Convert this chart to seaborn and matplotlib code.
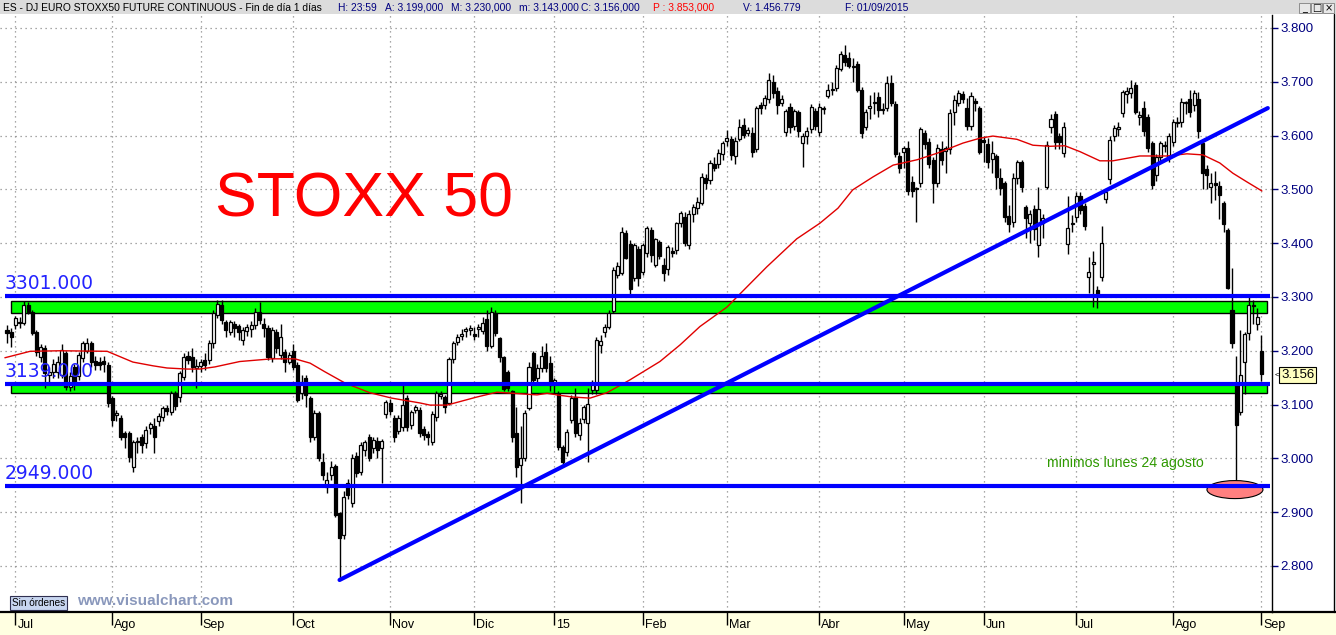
import numpy as np
import matplotlib
matplotlib.use("Agg")
import matplotlib.pyplot as plt
import matplotlib.transforms as mtransforms
from matplotlib.patches import Rectangle, Ellipse
import seaborn as sns

# daily candles, Jun 2014 -> 01/09/2015 (index = trading day)
opens = [
    3239, 3235, 3248, 3254, 3252, 3285, 3272, 3235, 3188, 3205,
    3155, 3160, 3160, 3155, 3196, 3133, 3170, 3153, 3186, 3199,
    3214, 3181, 3180, 3181, 3174, 3112, 3080, 3075, 3047, 3047,
    2984, 3031, 3040, 3029, 3057, 3060, 3070, 3077, 3094, 3086,
    3122, 3114, 3151, 3190, 3189, 3168, 3172, 3183, 3183, 3214,
    3266, 3285, 3253, 3235, 3250, 3246, 3220, 3237, 3240, 3248,
    3272, 3250, 3242, 3186, 3235, 3192, 3198, 3180, 3200, 3174,
    3121, 3150, 3112, 3040, 3084, 2993, 2947, 2969, 2986, 2898,
    2857, 2954, 2917, 3004, 2975, 3015, 3040, 3020, 3032, 3020,
    3082, 3103, 3075, 3050, 3058, 3112, 3062, 3090, 3090, 3055,
    3045, 3030, 3077, 3115, 3114, 3103, 3185, 3216, 3228, 3236,
    3238, 3232, 3240, 3237, 3259, 3209, 3270, 3224, 3188, 3160,
    3125, 3047, 2988, 3000, 3094, 3196, 3149, 3168, 3198, 3178,
    3138, 3120, 3021, 3012, 3071, 3114, 3043, 3073, 3066, 3127,
    3127, 3210, 3235, 3245, 3274, 3340, 3345, 3419, 3399, 3335,
    3390, 3346, 3382, 3425, 3360, 3402, 3360, 3352, 3386, 3387,
    3437, 3449, 3397, 3454, 3465, 3475, 3522, 3517, 3548, 3548,
    3566, 3590, 3593, 3562, 3593, 3620, 3605, 3605, 3575, 3657,
    3657, 3668, 3700, 3683, 3660, 3607, 3653, 3618, 3644, 3586,
    3599, 3612, 3646, 3607, 3650, 3674, 3685, 3688, 3724, 3750,
    3744, 3727, 3733, 3685, 3616, 3652, 3660, 3671, 3648, 3651,
    3698, 3659, 3562, 3570, 3577, 3514, 3500, 3511, 3605, 3588,
    3554, 3512, 3575, 3572, 3575, 3644, 3661, 3677, 3651, 3618,
    3665, 3651, 3592, 3584, 3556, 3562, 3521, 3512, 3451, 3439,
    3521, 3551, 3467, 3438, 3464, 3397, 3438, 3505, 3616, 3640,
    3599, 3568, 3398, 3436, 3449, 3488, 3469, 3337, 3361, 3313,
    3337, 3482, 3519, 3599, 3612, 3642, 3677, 3679, 3694, 3635,
    3651, 3634, 3586, 3527, 3560, 3580, 3560, 3588, 3624, 3625,
    3660, 3668, 3657, 3668, 3586, 3537, 3505, 3512, 3507, 3474,
    3425, 3276, 3136, 3086, 3179, 3233, 3285, 3250, 3199,
]
highs = [
    3248, 3242, 3265, 3262, 3292, 3290, 3275, 3238, 3212, 3210,
    3170, 3185, 3190, 3212, 3200, 3160, 3175, 3198, 3218, 3224,
    3218, 3190, 3188, 3190, 3180, 3115, 3090, 3080, 3050, 3050,
    3035, 3040, 3045, 3060, 3068, 3075, 3085, 3098, 3100, 3125,
    3125, 3162, 3195, 3200, 3205, 3185, 3185, 3195, 3220, 3275,
    3295, 3295, 3258, 3258, 3255, 3250, 3245, 3250, 3255, 3280,
    3291, 3260, 3248, 3245, 3240, 3250, 3203, 3198, 3212, 3180,
    3155, 3155, 3115, 3090, 3088, 3010, 2975, 2995, 2990, 2900,
    2940, 2962, 3008, 3012, 3030, 3035, 3045, 3040, 3040, 3036,
    3108, 3110, 3080, 3080, 3140, 3118, 3090, 3100, 3095, 3060,
    3050, 3088, 3126, 3125, 3118, 3188, 3218, 3232, 3240, 3245,
    3248, 3245, 3250, 3262, 3275, 3281, 3275, 3226, 3190, 3165,
    3128, 3095, 3060, 3090, 3180, 3200, 3175, 3208, 3215, 3190,
    3150, 3125, 3025, 3055, 3118, 3130, 3075, 3100, 3130, 3145,
    3225, 3230, 3250, 3275, 3355, 3365, 3430, 3425, 3405, 3400,
    3395, 3400, 3432, 3430, 3410, 3405, 3372, 3396, 3392, 3440,
    3460, 3458, 3462, 3472, 3485, 3530, 3528, 3555, 3560, 3575,
    3590, 3610, 3600, 3598, 3630, 3632, 3615, 3615, 3655, 3662,
    3675, 3716, 3712, 3690, 3675, 3650, 3660, 3650, 3648, 3605,
    3615, 3658, 3652, 3660, 3655, 3695, 3700, 3732, 3758, 3768,
    3755, 3745, 3738, 3690, 3650, 3675, 3680, 3680, 3660, 3710,
    3712, 3665, 3570, 3580, 3590, 3525, 3505, 3616, 3610, 3595,
    3560, 3585, 3590, 3580, 3650, 3675, 3685, 3682, 3670, 3680,
    3670, 3655, 3600, 3595, 3590, 3565, 3540, 3515, 3470, 3530,
    3555, 3555, 3470, 3462, 3470, 3505, 3455, 3590, 3640, 3645,
    3605, 3625, 3488, 3452, 3495, 3495, 3475, 3375, 3385, 3320,
    3432, 3500, 3600, 3620, 3625, 3685, 3690, 3704, 3700, 3645,
    3665, 3640, 3590, 3565, 3590, 3590, 3605, 3630, 3635, 3670,
    3665, 3685, 3685, 3680, 3590, 3545, 3530, 3535, 3515, 3478,
    3428, 3354, 3191, 3239, 3235, 3300, 3295, 3280, 3230,
]
lows = [
    3214, 3207, 3240, 3242, 3248, 3268, 3230, 3190, 3180, 3131,
    3140, 3150, 3150, 3150, 3128, 3126, 3128, 3145, 3180, 3195,
    3170, 3165, 3165, 3160, 3095, 3060, 3070, 3034, 3020, 2993,
    2975, 3010, 3010, 3020, 3045, 3010, 3060, 3070, 3080, 3080,
    3090, 3105, 3145, 3175, 3160, 3130, 3160, 3165, 3175, 3205,
    3260, 3250, 3225, 3230, 3225, 3220, 3210, 3228, 3225, 3240,
    3250, 3225, 3183, 3180, 3195, 3185, 3160, 3175, 3165, 3105,
    3110, 3095, 3030, 3035, 2995, 2960, 2935, 2960, 2891, 2774,
    2850, 2925, 2910, 2965, 2970, 3005, 2995, 3010, 3000, 2954,
    3075, 3080, 3030, 3045, 3050, 3050, 3055, 3085, 3040, 3035,
    3025, 3025, 3070, 3110, 3085, 3100, 3178, 3210, 3220, 3225,
    3230, 3220, 3225, 3232, 3200, 3205, 3228, 3180, 3125, 3125,
    3030, 2965, 2917, 2995, 3090, 3140, 3140, 3160, 3160, 3125,
    3120, 3015, 2985, 3005, 3065, 3040, 3035, 3065, 2993, 3120,
    3120, 3195, 3225, 3240, 3270, 3335, 3340, 3370, 3305, 3330,
    3320, 3340, 3375, 3365, 3355, 3370, 3330, 3340, 3375, 3380,
    3430, 3395, 3390, 3440, 3455, 3470, 3500, 3510, 3535, 3540,
    3555, 3580, 3555, 3548, 3590, 3595, 3600, 3560, 3570, 3640,
    3650, 3660, 3670, 3640, 3655, 3600, 3605, 3610, 3598, 3542,
    3585, 3605, 3610, 3600, 3640, 3670, 3675, 3682, 3720, 3730,
    3725, 3700, 3680, 3595, 3610, 3630, 3640, 3635, 3640, 3645,
    3655, 3560, 3530, 3540, 3490, 3485, 3439, 3505, 3575, 3540,
    3475, 3505, 3545, 3530, 3565, 3620, 3655, 3660, 3610, 3610,
    3645, 3565, 3550, 3540, 3530, 3500, 3490, 3440, 3420, 3430,
    3510, 3495, 3410, 3400, 3405, 3375, 3410, 3500, 3605, 3575,
    3575, 3560, 3380, 3420, 3440, 3455, 3425, 3307, 3282, 3280,
    3330, 3475, 3510, 3590, 3600, 3635, 3660, 3670, 3640, 3620,
    3600, 3570, 3500, 3515, 3550, 3570, 3550, 3580, 3615, 3615,
    3640, 3635, 3645, 3595, 3500, 3500, 3475, 3480, 3445, 3420,
    3315, 3205, 2951, 3080, 3120, 3220, 3250, 3238, 3143,
]
closes = [
    3233, 3226, 3261, 3251, 3285, 3272, 3233, 3198, 3207, 3159,
    3160, 3175, 3179, 3201, 3133, 3153, 3142, 3192, 3214, 3214,
    3179, 3174, 3174, 3176, 3103, 3071, 3084, 3040, 3040, 3003,
    3030, 3033, 3025, 3053, 3064, 3040, 3079, 3094, 3088, 3122,
    3097, 3159, 3189, 3183, 3170, 3172, 3180, 3174, 3214, 3270,
    3287, 3257, 3239, 3253, 3242, 3235, 3239, 3244, 3248, 3272,
    3257, 3242, 3188, 3238, 3205, 3226, 3179, 3192, 3170, 3109,
    3142, 3118, 3040, 3084, 3000, 2969, 2960, 2984, 2895, 2852,
    2928, 2932, 3000, 2973, 3025, 3030, 3001, 3035, 3015, 3032,
    3105, 3088, 3040, 3075, 3100, 3058, 3086, 3095, 3047, 3043,
    3040, 3082, 3122, 3120, 3095, 3185, 3214, 3226, 3232, 3240,
    3242, 3228, 3245, 3252, 3209, 3272, 3233, 3188, 3129, 3130,
    3040, 2984, 3000, 3084, 3170, 3146, 3168, 3190, 3168, 3136,
    3145, 3021, 2993, 3049, 3112, 3047, 3066, 3095, 3101, 3140,
    3220, 3218, 3245, 3270, 3350, 3358, 3421, 3373, 3315, 3397,
    3335, 3397, 3428, 3378, 3408, 3376, 3345, 3393, 3382, 3437,
    3456, 3401, 3454, 3467, 3476, 3523, 3512, 3549, 3540, 3568,
    3586, 3595, 3564, 3590, 3615, 3601, 3610, 3570, 3651, 3651,
    3670, 3703, 3679, 3657, 3667, 3646, 3616, 3646, 3608, 3599,
    3608, 3653, 3618, 3653, 3650, 3685, 3685, 3726, 3752, 3737,
    3729, 3727, 3685, 3605, 3644, 3655, 3662, 3647, 3650, 3698,
    3661, 3566, 3540, 3577, 3497, 3497, 3502, 3612, 3584, 3547,
    3512, 3577, 3554, 3577, 3642, 3666, 3679, 3668, 3618, 3674,
    3660, 3570, 3588, 3551, 3567, 3523, 3503, 3449, 3436, 3521,
    3551, 3505, 3447, 3454, 3427, 3464, 3447, 3582, 3631, 3588,
    3588, 3616, 3428, 3436, 3488, 3462, 3432, 3346, 3365, 3304,
    3400, 3495, 3592, 3614, 3616, 3681, 3682, 3688, 3644, 3638,
    3608, 3577, 3508, 3560, 3586, 3583, 3599, 3625, 3626, 3662,
    3663, 3644, 3679, 3608, 3530, 3527, 3512, 3508, 3490, 3436,
    3317, 3214, 3062, 3155, 3231, 3285, 3284, 3263, 3156,
]

ma_idx = [-0.5, 5.5, 12.6, 23.8, 29.9, 34.7, 38.0, 42.8, 45.8, 49.4,
          55.3, 62.9, 68.4, 72.0, 75.5, 80.3, 86.2, 91.4, 98.1, 100.5,
          104.5, 111.6, 116.4, 120.2, 125.9, 128.3, 130.6, 134.4, 138.5, 142.5,
          148.0, 155.1, 159.9, 164.6, 171.0, 180.5, 187.6, 193.1, 197.4, 200.9,
          205.7, 210.5, 216.2, 220.9, 227.1, 231.1, 234.2, 239.9, 243.7, 247.7,
          251.3, 254.9, 259.6, 262.7, 269.1, 275.5, 280.3, 284.1, 288.1, 291.2,
          294.5, 298.1]
ma_val = [3187, 3199, 3200, 3199, 3179, 3172, 3168, 3166, 3166, 3170,
          3180, 3185, 3185, 3177, 3161, 3140, 3122, 3112, 3103, 3099,
          3099, 3114, 3123, 3121, 3118, 3121, 3118, 3114, 3112, 3122,
          3146, 3180, 3211, 3245, 3281, 3356, 3408, 3437, 3465, 3499,
          3523, 3545, 3555, 3567, 3586, 3595, 3599, 3593, 3582, 3580,
          3581, 3570, 3553, 3553, 3562, 3562, 3566, 3564, 3549, 3530,
          3514, 3497]

# drawn annotations
levels = [3301, 3139, 2949]
level_labels = ["3301.000", "3139.000", "2949.000"]
zones = [(3270, 3293), (3122, 3138)]
trend_idx = [79.0, 299.5]
trend_val = [2774, 3651]

month_idx = [2, 25, 46, 68, 91, 111, 130, 151, 171, 193, 213, 232, 254, 277, 298]
month_labels = ["Jul", "Ago", "Sep", "Oct", "Nov", "Dic", "15", "Feb", "Mar",
                "Abr", "May", "Jun", "Jul", "Ago", "Sep"]

last_close = 3156

sns.set_style("white")
plt.rcParams["font.family"] = ["Liberation Sans", "DejaVu Sans"]

W, H = 1336, 635
fig = plt.figure(figsize=(W / 100, H / 100), dpi=100)
fig.patch.set_facecolor("white")

# header strip and bottom date strip (behind the axes)
fig.patches.append(Rectangle((0, 1 - 14 / H), 1, 14 / H, transform=fig.transFigure,
                             facecolor="#dcdcdc", edgecolor="none", zorder=-5))
fig.patches.append(Rectangle((0, 0), 1, 23 / H, transform=fig.transFigure,
                             facecolor="#ffffe1", edgecolor="none", zorder=-5))

ax = fig.add_axes([0, 23 / H, 1272 / W, 597 / H])
ax.set_facecolor("white")
ax.set_xlim(-1.66, 300.5)
ax.set_ylim(2714.5, 3824)

x = np.arange(len(closes))
o = np.array(opens)
c = np.array(closes)
hi = np.array(highs)
lo = np.array(lows)

# grid
gcol = "#8c8c8c"
for m in month_idx:
    ax.axvline(m, color=gcol, lw=0.9, ls=(0, (1, 3)), zorder=0.5)
for p in range(2800, 3801, 100):
    ax.axhline(p, color=gcol, lw=0.9, ls=(0, (1, 3)), zorder=0.5)

# support/resistance zones
for lo_z, hi_z in zones:
    ax.add_patch(Rectangle((0.95, lo_z), 298.4, hi_z - lo_z, facecolor="#00ff00",
                           edgecolor="black", lw=1.0, zorder=1.5))

# candles
ax.vlines(x, lo, hi, color="black", lw=1.0, zorder=2)
up = c >= o
body_lo = np.minimum(o, c)
body_h = np.maximum(np.abs(c - o), 1.5)
ax.bar(x[up], body_h[up], bottom=body_lo[up], width=0.72, color="white",
       edgecolor="black", lw=0.9, zorder=3)
ax.bar(x[~up], body_h[~up], bottom=body_lo[~up], width=0.72, color="black",
       edgecolor="black", lw=0.9, zorder=3)

# moving average
sns.lineplot(x=ma_idx, y=ma_val, ax=ax, color="#e00000", lw=1.0, zorder=4)

# ellipse marking the 24 Aug low
ax.add_patch(Ellipse((291.7, 2942), 13.3, 33.5, facecolor="#ff8080",
                     edgecolor="black", lw=0.8, zorder=4))

# blue lines
for lv in levels:
    ax.plot([-0.5, 300.0], [lv, lv], color="#0000ff", lw=3.0, zorder=5,
            solid_capstyle="butt")
sns.lineplot(x=trend_idx, y=trend_val, ax=ax, color="#0000ff", lw=3.0, zorder=5)

blend = mtransforms.blended_transform_factory(ax.transAxes, ax.transData)
for lv, lab in zip(levels, level_labels):
    ax.text(5 / 1272, lv + 13, lab, transform=blend, color="#2323ff",
            fontsize=13.5, family="DejaVu Sans", va="baseline", ha="left", zorder=6)

ax.text(215 / 1272, 3480, "STOXX 50", transform=blend, color="#ff0000",
        fontsize=45, va="center", ha="left", zorder=6)
ax.text(1047 / 1272, 2992, "minimos lunes 24 agosto", transform=blend,
        color="#2e9900", fontsize=10.2, va="center", ha="left", zorder=6)

# axes styling
for s in ["top", "left"]:
    ax.spines[s].set_visible(False)
ax.spines["right"].set_color("black")
ax.spines["right"].set_lw(1.0)
ax.spines["bottom"].set_color("black")
ax.spines["bottom"].set_lw(1.6)

ax.yaxis.tick_right()
ax.set_yticks(range(2800, 3801, 100))
ax.set_yticklabels([f"{v / 1000:.3f}" for v in range(2800, 3801, 100)])
ax.tick_params(axis="y", which="both", left=False, right=True, length=4,
               width=1, color="#000080", labelcolor="#000080", labelsize=9.5, pad=2)

ax.set_xticks(month_idx)
ax.set_xticklabels(month_labels)
ax.tick_params(axis="x", which="both", bottom=True, length=9, width=1,
               color="black", labelcolor="black", labelsize=9, pad=-4)
off = mtransforms.ScaledTranslation(2 / 100, 0, fig.dpi_scale_trans)
for t in ax.get_xticklabels():
    t.set_ha("left")
    t.set_transform(t.get_transform() + off)
ax.set_xlabel("")
ax.set_ylabel("")

# last price tag
ax.annotate(f"{last_close / 1000:.3f}", xy=(1.0, last_close), xycoords=blend,
            xytext=(1281, H - 375), textcoords="figure pixels",
            fontsize=9.5, color="black", va="center", ha="left", zorder=7,
            bbox=dict(boxstyle="square,pad=0.12", facecolor="#ffffc0",
                      edgecolor="black", lw=0.8), annotation_clip=False)
fig.text(1275 / W, 1 - 375 / H, "<", fontsize=6, color="black", va="center")

# bottom line across the right panel and right border
fig.add_artist(plt.Line2D([1272 / W, 1], [23 / H, 23 / H], color="black", lw=1.6,
                          transform=fig.transFigure))
fig.add_artist(plt.Line2D([1334 / W, 1334 / W], [23 / H, 1 - 14 / H], color="black",
                          lw=1.0, transform=fig.transFigure))

# header text
hy = 1 - 8 / H
hs = 7.4
fig.text(3 / W, hy, "ES - DJ EURO STOXX50 FUTURE CONTINUOUS - Fin de día 1 días",
         fontsize=hs, color="black", va="center")
for xp, txt, col in [(338, "H: 23:59", "#000080"), (385, "A: 3.199,000", "#000080"),
                     (451, "M: 3.230,000", "#000080"), (519, "m: 3.143,000", "#000080"),
                     (581, "C: 3.156,000", "#000080"), (653, "P : 3.853,000", "#ff0000"),
                     (743, "V: 1.456.779", "#000080"), (845, "F: 01/09/2015", "#000080")]:
    fig.text(xp / W, hy, txt, fontsize=hs, color=col, va="center")

# window buttons
for i, g in enumerate(["_", "□", "×"]):
    bx = 1299 + 12 * i
    fig.patches.append(Rectangle((bx / W, 1 - 13 / H), 11 / W, 10 / H,
                                 transform=fig.transFigure, facecolor="#e8e8e8",
                                 edgecolor="#808080", lw=0.6))
    fig.text((bx + 5.5) / W, 1 - 8 / H, g, fontsize=7, ha="center", va="center",
             family="DejaVu Sans", color="black")

# footer
fig.text(12 / W, 1 - 603 / H, "Sin órdenes", fontsize=7.2, color="black",
         va="center", ha="left",
         bbox=dict(boxstyle="square,pad=0.2", facecolor="#c8d6f0",
                   edgecolor="#303050", lw=0.8))
fig.text(77 / W, 1 - 601 / H, "www.visualchart.com", fontsize=11, color="#8a98bc",
         fontweight="bold", va="center", ha="left")

fig.savefig("out.png", dpi=100)
